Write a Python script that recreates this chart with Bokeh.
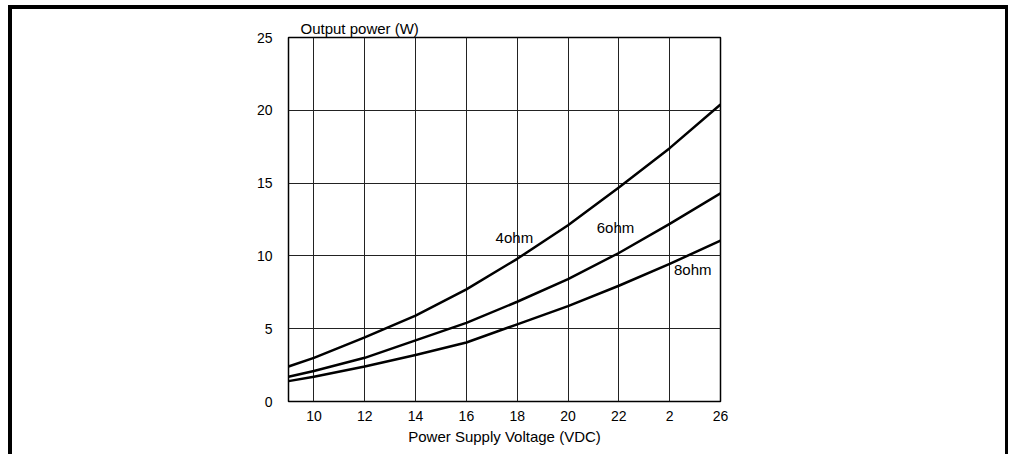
from bokeh.plotting import figure
from bokeh.models import FixedTicker, Label, Title
from bokeh.embed import file_html
from bokeh.resources import INLINE

# ---- data ----
voltage = [9, 10, 12, 14, 16, 18, 20, 22, 24, 26]
p_4ohm = [2.4, 3.0, 4.4, 5.9, 7.7, 9.8, 12.1, 14.7, 17.4, 20.4]
p_6ohm = [1.7, 2.1, 3.0, 4.2, 5.4, 6.85, 8.4, 10.2, 12.2, 14.3]
p_8ohm = [1.4, 1.7, 2.4, 3.2, 4.05, 5.3, 6.55, 7.95, 9.45, 11.05]

x_ticks = [10, 12, 14, 16, 18, 20, 22, 24, 26]
x_tick_labels = ["10", "12", "14", "16", "18", "20", "22", "2", "26"]
y_ticks = [0, 5, 10, 15, 20, 25]
y_tick_labels = ["0", "5", "10", "15", "20", "25"]

curve_names = ["4ohm", "6ohm", "8ohm"]
curve_label_x = [17.15, 21.13, 24.17]
curve_label_y = [11.25, 11.95, 9.05]

y_title = "Output power (W)"
x_title = "Power Supply Voltage (VDC)"

FONT = "Liberation Sans"

p = figure(width=1000, height=449, x_range=(9, 26), y_range=(0, 25),
           output_backend="svg", toolbar_location=None,
           min_border_left=276, min_border_right=292,
           min_border_top=28, min_border_bottom=57)
p.styles = {"margin-left": "8px", "margin-top": "5px",
            "border-left": "4px solid black",
            "border-top": "4px solid black",
            "border-right": "3px solid black"}
p.background_fill_color = "white"
p.border_fill_color = "white"
p.outline_line_color = "black"
p.outline_line_width = 1.5

# y-axis title above the frame
p.title = Title(text=y_title, align="left", offset=12, standoff=2,
                text_font=FONT, text_font_size="15px",
                text_font_style="normal", text_color="black")

# grid
p.xgrid.ticker = FixedTicker(ticks=x_ticks)
p.ygrid.ticker = FixedTicker(ticks=y_ticks)
for g in (p.xgrid, p.ygrid):
    g.grid_line_color = "#222222"
    g.grid_line_width = 1
    g.grid_line_alpha = 1.0

# axes
p.xaxis.ticker = FixedTicker(ticks=x_ticks)
p.xaxis.major_label_overrides = {t: l for t, l in zip(x_ticks, x_tick_labels)}
p.yaxis.ticker = FixedTicker(ticks=y_ticks)
p.yaxis.major_label_overrides = {t: l for t, l in zip(y_ticks, y_tick_labels)}
for ax in (p.xaxis, p.yaxis):
    ax.axis_line_color = None
    ax.major_tick_line_color = None
    ax.minor_tick_line_color = None
    ax.major_label_text_font = FONT
    ax.major_label_text_font_size = "14px"
    ax.major_label_text_color = "black"
p.yaxis.major_label_standoff = 10
p.xaxis.major_label_standoff = 3
p.xaxis.axis_label = x_title
p.xaxis.axis_label_text_font = FONT
p.xaxis.axis_label_text_font_style = "normal"
p.xaxis.axis_label_text_font_size = "15px"
p.xaxis.axis_label_text_color = "black"
p.xaxis.axis_label_standoff = 4

# curves
for ys in (p_4ohm, p_6ohm, p_8ohm):
    p.line(voltage, ys, line_color="black", line_width=2.5, line_join="round")

for name, lx, ly in zip(curve_names, curve_label_x, curve_label_y):
    p.add_layout(Label(x=lx, y=ly, text=name, text_font=FONT,
                       text_font_size="15px", text_color="black",
                       text_baseline="middle", text_align="left"))

open("out.html", "w").write(file_html(p, INLINE))
